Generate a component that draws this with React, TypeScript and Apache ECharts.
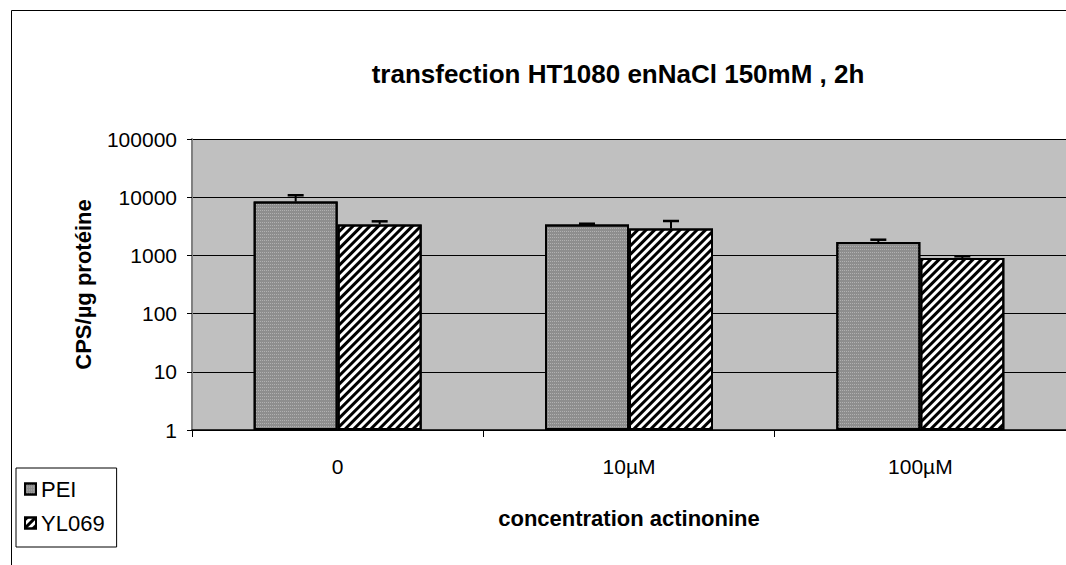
import React, { useEffect, useRef } from "react";
import * as echarts from "echarts";

const categories = ["0", "10µM", "100µM"];
const seriesNames = ["PEI", "YL069"];
const peiValues = [8400, 3400, 1700];
const yl069Values = [3400, 2900, 900];
const peiErrorTop = [10800, 3500, 1860];
const yl069ErrorTop = [3850, 3900, 965];

const FONT = "'Liberation Sans', Arial, sans-serif";
const BAR_W = 84;

function errorSeries(name: string, values: number[], tops: number[], offset: number) {
  return {
    type: "custom",
    name: name + "-err",
    z: 5,
    silent: true,
    data: categories.map((_, i) => [i, tops[i], values[i]]),
    encode: { x: 0, y: 1 },
    renderItem: (_params: any, api: any) => {
      const i = api.value(0);
      const top = api.value(1);
      const base = api.value(2);
      const p0 = api.coord([i, base]);
      const p1 = api.coord([i, top]);
      const x = p0[0] + offset;
      return {
        type: "group",
        children: [
          { type: "line", shape: { x1: x, y1: p0[1], x2: x, y2: p1[1] }, style: { stroke: "#000", lineWidth: 2 } },
          { type: "line", shape: { x1: x - 8, y1: p1[1], x2: x + 8, y2: p1[1] }, style: { stroke: "#000", lineWidth: 2.5 } },
        ],
      };
    },
  };
}

export default function App() {
  const ref = useRef<HTMLDivElement>(null);
  useEffect(() => {
    const chart = echarts.init(ref.current!, null, { renderer: "svg" });
    chart.setOption({
      animation: false,
      backgroundColor: "#fff",
      textStyle: { fontFamily: FONT, color: "#000" },
      title: {
        text: "transfection HT1080 enNaCl 150mM , 2h",
        left: 613,
        top: 56,
        textAlign: "center",
        textStyle: { fontFamily: FONT, fontSize: 26, fontWeight: "bold", color: "#000" },
      },
      graphic: [
        {
          type: "polyline",
          shape: { points: [[11.5, 800], [11.5, 10.5], [1300, 10.5]] },
          style: { fill: "none", stroke: "#000", lineWidth: 1 },
          z: 100,
          silent: true,
        },
      ],
      legend: {
        orient: "vertical",
        left: 16,
        top: 468,
        data: seriesNames,
        icon: "rect",
        itemWidth: 11,
        itemHeight: 11,
        itemGap: 12,
        itemTextGap: 4,
        padding: [10, 12, 13, 8],
        backgroundColor: "#fff",
        borderColor: "#000",
        borderWidth: 1,
        borderRadius: 0,
        textStyle: { fontFamily: FONT, fontSize: 22, color: "#000" },
      },
      grid: {
        left: 192,
        right: 0,
        top: 139,
        bottom: 135,
        show: true,
        backgroundColor: "#c0c0c0",
        borderWidth: 0,
        containLabel: false,
      },
      xAxis: {
        type: "category",
        data: categories,
        name: "concentration actinonine",
        nameLocation: "middle",
        nameGap: 77,
        nameTextStyle: { fontFamily: FONT, fontSize: 22, fontWeight: "bold", color: "#000" },
        axisLine: { show: true, lineStyle: { color: "#000", width: 1.5 } },
        axisTick: { show: true, alignWithLabel: false, length: 7, lineStyle: { color: "#000" } },
        axisLabel: { fontFamily: FONT, fontSize: 21, color: "#000", margin: 26 },
        splitLine: { show: false },
      },
      yAxis: {
        type: "log",
        logBase: 10,
        min: 1,
        max: 100000,
        name: "CPS/µg protéine",
        nameLocation: "middle",
        nameGap: 98,
        nameTextStyle: { fontFamily: FONT, fontSize: 22, fontWeight: "bold", color: "#000" },
        axisLine: { show: true, lineStyle: { color: "#808080", width: 2 } },
        axisTick: { show: true, inside: false, length: 5, lineStyle: { color: "#000" } },
        axisLabel: {
          fontFamily: FONT,
          fontSize: 21,
          color: "#000",
          margin: 15,
          formatter: (v: number) => String(Math.round(v)),
        },
        splitLine: { show: true, lineStyle: { color: "#000", width: 1 } },
      },
      series: [
        {
          type: "bar",
          name: "PEI",
          data: peiValues,
          barWidth: BAR_W,
          barGap: "0%",
          itemStyle: {
            color: "#8e8e8e",
            borderColor: "#000",
            borderWidth: 2,
            decal: {
              symbol: "rect",
              symbolSize: 1,
              dashArrayX: [1, 1],
              dashArrayY: [1, 2],
              color: "rgba(200,200,200,0.6)",
            },
          },
        },
        {
          type: "bar",
          name: "YL069",
          data: yl069Values,
          barWidth: BAR_W,
          barGap: "0%",
          itemStyle: {
            color: "#fff",
            borderColor: "#000",
            borderWidth: 2,
            decal: {
              symbol: "rect",
              symbolSize: 1,
              dashArrayX: [[1, 0]],
              dashArrayY: [2.5, 2.5],
              rotation: -Math.PI / 4,
              color: "#000",
            },
          },
        },
        errorSeries("PEI", peiValues, peiErrorTop, -BAR_W / 2),
        errorSeries("YL069", yl069Values, yl069ErrorTop, BAR_W / 2),
      ],
    });
    return () => chart.dispose();
  }, []);
  return (
    <div
      ref={ref}
      style={{ position: "fixed", left: 0, top: 0, width: 1066, height: 565 }}
    />
  );
}
